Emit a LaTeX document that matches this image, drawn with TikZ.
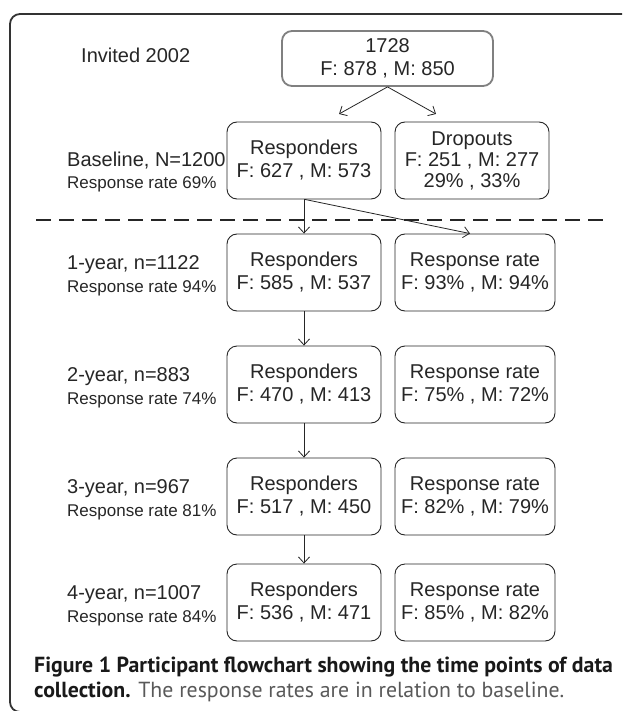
\documentclass[tikz,border=0pt]{standalone}
\usepackage{fontspec}
\setmainfont{Liberation Sans}
\newfontfamily\capfont{PT Sans}
\usetikzlibrary{arrows.meta}
\begin{document}
\begin{tikzpicture}[x=1pt,y=-1pt,
  box/.style={draw=black!85, line width=0.9pt, rounded corners=10pt, minimum height=77pt,
    align=center, inner sep=0pt, font=\fontsize{20}{23}\selectfont, text=black!85},
  rbox/.style={box, minimum width=154pt},
  rrbox/.style={box, minimum width=160pt},
  topbox/.style={box, draw=black!50, line width=1.8pt, minimum width=211pt, minimum height=55pt},
  lab/.style={anchor=west, inner sep=0pt, font=\fontsize{20}{23}\selectfont, text=black!85},
  sublab/.style={anchor=west, inner sep=0pt, font=\fontsize{17}{20}\selectfont, text=black!85},
  arr/.style={-{Straight Barb[length=6pt,width=11pt]}, line width=0.8pt, draw=black!85},
  frame/.style={draw=black!80, line width=1.8pt, rounded corners=10pt},
  sep/.style={draw=black!85, line width=1.4pt, dash pattern=on 15pt off 8pt},
  capline/.style={anchor=base west, inner sep=0pt, font=\capfont\fontsize{21.8}{25}\selectfont, text=black!90}]
\useasboundingbox (0,0) rectangle (622,711);
\clip (0,0) rectangle (622,711);
\fill[white] (0,0) rectangle (622,711);

% outer frame
\draw[frame] (622,14) -- (10,14) -- (10,712) -- (60,712);

% top
\node[lab] (inv) at (81,55) {Invited 2002};
\node[topbox] (top) at (387.5,58.5) {1728\\F: 878 , M: 850};

% baseline
\node[rbox] (r0) at (304,160.5) {Responders\\F: 627 , M: 573};
\node[rbox, font=\fontsize{20}{21}\selectfont] (d0) at (472,160.5) {Dropouts\\F: 251 , M: 277\\29\% , 33\%};
\node[lab] (l0) at (67,161) {Baseline, N=1200};
\node[sublab] (s0) at (67,184) {Response rate 69\%};

\coordinate (t1) at (339,114);
\coordinate (t2) at (436,114);
\draw[arr] (top.south) -- (t1);
\draw[arr] (top.south) -- (t2);

% separator
\coordinate (dl) at (36,220);
\coordinate (dr) at (607,220);
\draw[sep] (dl) -- (dr);

% rows
\node[rbox] (r1) at (304,272.5) {Responders\\F: 585 , M: 537};
\node[rrbox] (q1) at (475,272.5) {Response rate\\F: 93\% , M: 94\%};
\node[lab] (l1) at (67,265) {1-year, n=1122};
\node[sublab] (s1) at (67,288) {Response rate 94\%};

\node[rbox] (r2) at (304,384.5) {Responders\\F: 470 , M: 413};
\node[rrbox] (q2) at (475,384.5) {Response rate\\F: 75\% , M: 72\%};
\node[lab] (l2) at (67,377) {2-year, n=883};
\node[sublab] (s2) at (67,400) {Response rate 74\%};

\node[rbox] (r3) at (304,496.5) {Responders\\F: 517 , M: 450};
\node[rrbox] (q3) at (475,496.5) {Response rate\\F: 82\% , M: 79\%};
\node[lab] (l3) at (67,489) {3-year, n=967};
\node[sublab] (s3) at (67,512) {Response rate 81\%};

\node[rbox] (r4) at (304,602.5) {Responders\\F: 536 , M: 471};
\node[rrbox] (q4) at (475,602.5) {Response rate\\F: 85\% , M: 82\%};
\node[lab] (l4) at (67,595) {4-year, n=1007};
\node[sublab] (s4) at (67,618) {Response rate 84\%};

% connectors
\draw[arr] (r0.south) -- (r1.north);
\draw[arr] ([xshift=1pt]r0.south) -- ([xshift=-5pt]q1.north);
\draw[arr] (r1.south) -- (r2.north);
\draw[arr] (r2.south) -- (r3.north);
\draw[arr] (r3.south) -- (r4.north);

% caption
\node[capline] (c1) at (34,672) {\bfseries Figure 1 Participant flowchart showing the time points of data};
\node[capline] (c2) at (34,697) {\textbf{collection.} {\color{black!65}The response rates are in relation to baseline.}};
\end{tikzpicture}
\end{document}
